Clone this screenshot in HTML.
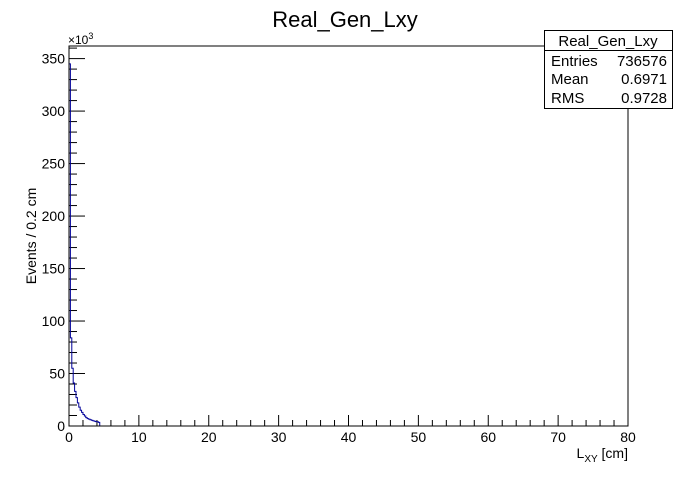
<!DOCTYPE html>
<html><head><meta charset="utf-8"><style>
body{margin:0;background:#fff}
svg text{font-family:"Liberation Sans",Arial,sans-serif}
</style></head><body>
<svg id="c" width="698" height="474" xmlns="http://www.w3.org/2000/svg">
<rect width="698" height="474" fill="#fff"/>
<text x="345" y="27" font-size="22" text-anchor="middle">Real_Gen_Lxy</text>
<g id="axes"></g>
<path id="hist" fill="none" stroke="#000099" stroke-width="1"/>
<rect x="69" y="46" width="559" height="380" fill="none" stroke="#000"/>
<g>
<rect x="544.5" y="30.5" width="128" height="78" fill="#fff" stroke="#000"/>
<line x1="544.5" y1="50.5" x2="672.5" y2="50.5" stroke="#000"/>
<text x="608" y="46" font-size="15" text-anchor="middle">Real_Gen_Lxy</text>
<text x="551" y="66" font-size="15">Entries</text><text x="667" y="66" font-size="15" text-anchor="end">736576</text>
<text x="551" y="84" font-size="15">Mean</text><text x="667" y="84" font-size="15" text-anchor="end">0.6971</text>
<text x="551" y="103" font-size="15">RMS</text><text x="667" y="103" font-size="15" text-anchor="end">0.9728</text>
</g>
<text x="68" y="44" font-size="12">×10<tspan dy="-5" font-size="9">3</tspan></text>
<text transform="translate(36,236) rotate(-90)" font-size="14" text-anchor="middle">Events / 0.2 cm</text>
<text x="628" y="458" font-size="14" text-anchor="end">L<tspan font-size="10" dy="4">XY</tspan><tspan dy="-4"> [cm]</tspan></text>
</svg>
<script>
const binWidth=0.2;
const counts=[345,84,55,41,33,27,22,18,15,13,11,9.5,8,7,6.5,6,5.5,5,4.5,4.2,4,3.5];
const xTicks=[0,10,20,30,40,50,60,70,80];
const yTicks=[0,50,100,150,200,250,300,350];
const X0=69,X1=628,Y0=426,Y1=46,XMAX=80,YMAX=362;
const sx=v=>X0+(v/XMAX)*(X1-X0);
const sy=v=>Y0-(v/YMAX)*(Y0-Y1);
const ns="http://www.w3.org/2000/svg";
const g=document.getElementById('axes');
function line(x1,y1,x2,y2){const l=document.createElementNS(ns,'line');l.setAttribute('x1',x1);l.setAttribute('y1',y1);l.setAttribute('x2',x2);l.setAttribute('y2',y2);l.setAttribute('stroke','#000');g.appendChild(l);return l;}
function text(x,y,s,a){const t=document.createElementNS(ns,'text');t.setAttribute('x',x);t.setAttribute('y',y);t.setAttribute('font-size','14');t.setAttribute('text-anchor',a);t.textContent=s;g.appendChild(t);return t;}
for(let v=0;v<=XMAX;v+=2){const major=v%10===0;const l=line(sx(v),Y0,sx(v),Y0-(major?11:6));

}
xTicks.forEach(v=>{const t=text(sx(v),Y0+16,String(v),'middle');

});
for(let v=0;v<=YMAX;v+=10){const major=v%50===0;const l=line(X0,sy(v),X0+(major?16:8),sy(v));

}
yTicks.forEach(v=>{const t=text(X0-4,sy(v)+5,String(v),'end');

});
let d=`M${sx(0)},${sy(0)}`;
counts.forEach((c,i)=>{d+=` L${sx(i*binWidth)},${sy(c)} L${sx((i+1)*binWidth)},${sy(c)}`;});
d+=` L${sx(counts.length*binWidth)},${sy(0)}`;
document.getElementById('hist').setAttribute('d',d);
</script>
</body></html>
